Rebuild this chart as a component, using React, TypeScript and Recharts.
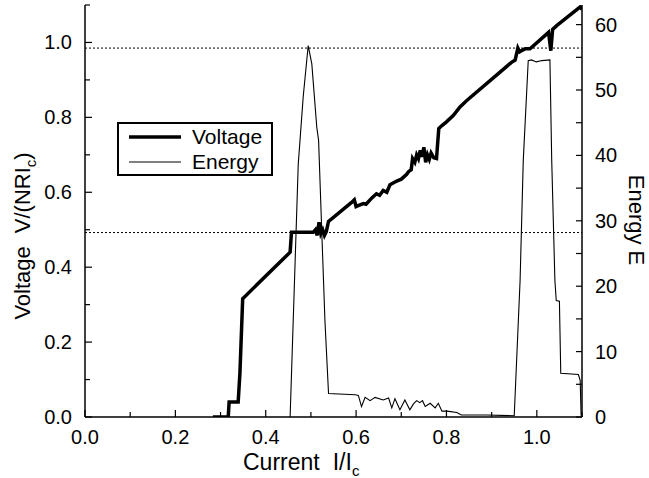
import { Label, Legend, Line, LineChart, ReferenceLine, XAxis, YAxis } from "recharts";

// Voltage V/(NRIc) vs current I/Ic
const voltageI = [
  0.283, 0.317, 0.319, 0.339, 0.343, 0.349, 0.454, 0.457, 0.505, 0.51, 0.514, 0.518, 0.522,
  0.526, 0.53, 0.534, 0.539, 0.59, 0.596, 0.6, 0.606, 0.616, 0.622, 0.635, 0.645, 0.652, 0.66,
  0.668, 0.675, 0.69, 0.7, 0.712, 0.716, 0.722, 0.725, 0.73, 0.734, 0.738, 0.742, 0.746, 0.75,
  0.754, 0.758, 0.762, 0.766, 0.772, 0.778, 0.783, 0.79, 0.8, 0.815, 0.83, 0.845, 0.944, 0.952,
  0.958, 0.962, 0.966, 0.974, 0.985, 1.026, 1.031, 1.035, 1.044, 1.096, 1.1,
];
const voltageV = [
  0, 0, 0.04, 0.04, 0.12, 0.316, 0.44, 0.493, 0.493, 0.5, 0.485, 0.52, 0.49,
  0.5, 0.485, 0.495, 0.522, 0.573, 0.58, 0.562, 0.565, 0.57, 0.568, 0.585, 0.596, 0.592, 0.605,
  0.6, 0.62, 0.63, 0.635, 0.648, 0.655, 0.66, 0.69, 0.68, 0.7, 0.69, 0.712, 0.695, 0.72,
  0.68, 0.7, 0.688, 0.705, 0.692, 0.69, 0.77, 0.778, 0.788, 0.805, 0.828, 0.845, 0.947, 0.953,
  0.985, 0.975, 0.978, 0.983, 0.983, 1.027, 0.978, 1.035, 1.045, 1.095, 1.088,
];

// Energy E vs current I/Ic
const energyI = [
  0.454, 0.472, 0.483, 0.494, 0.502, 0.513, 0.517, 0.525, 0.531, 0.539, 0.598, 0.605, 0.612,
  0.62, 0.631, 0.642, 0.66, 0.672, 0.679, 0.686, 0.697, 0.708, 0.719, 0.727, 0.734, 0.741,
  0.747, 0.753, 0.764, 0.775, 0.782, 0.79, 0.801, 0.823, 0.833, 0.889, 0.95, 0.963, 0.97,
  0.981, 0.988, 0.999, 1.011, 1.029, 1.033, 1.04, 1.043, 1.05, 1.053, 1.092, 1.096, 1.098,
];
const energyE = [
  0, 38.7, 49, 56.8, 54, 44.3, 42.3, 26.5, 14.8, 3.6, 3.4, 3.3, 1.6,
  3.0, 2.5, 3.0, 2.6, 2.9, 1.4, 2.8, 1.1, 2.6, 1.1, 2.0, 2.5, 2.2,
  2.5, 1.6, 2.1, 1.4, 2.1, 0.9, 0.9, 0.7, 0.3, 0.3, 0.2, 20.9, 39.2,
  54.5, 54.6, 54.3, 54.5, 54.6, 39.2, 20.9, 17.8, 17.7, 6.7, 6.5, 5.6, 0.2,
];

const xTicks = [0, 0.1, 0.2, 0.3, 0.4, 0.5, 0.6, 0.7, 0.8, 0.9, 1.0, 1.1];
const xLabels = [0, 0.2, 0.4, 0.6, 0.8, 1.0];
const vTicks = [0, 0.1, 0.2, 0.3, 0.4, 0.5, 0.6, 0.7, 0.8, 0.9, 1.0, 1.1];
const vLabels = [0, 0.2, 0.4, 0.6, 0.8, 1.0];
const eTicks = [0, 5, 10, 15, 20, 25, 30, 35, 40, 45, 50, 55, 60];
const eLabels = [0, 10, 20, 30, 40, 50, 60];
const guideLevels = [0.985, 0.4925];

const voltageData = voltageI.map((x, i) => ({ x, v: voltageV[i] }));
const energyData = energyI.map((x, i) => ({ x, e: energyE[i] }));

const FONT = "'Liberation Sans', Arial, Helvetica, sans-serif";
const has = (list: number[], v: number) => list.some((l) => Math.abs(l - v) < 1e-6);

const BottomTick = ({ x, y, payload }: any) => {
  const v = payload.value;
  const major = has(xLabels, v);
  return (
    <g>
      <line x1={x} x2={x} y1={y} y2={y - (major ? 7 : 5)} stroke="#000" strokeWidth={1.2} />
      {major && (
        <text x={x} y={y + 27} textAnchor="middle" fontSize={20} fontFamily={FONT} fill="#000">
          {v.toFixed(1)}
        </text>
      )}
    </g>
  );
};

const TopTick = ({ x, y, payload }: any) => {
  const major = has(xLabels, payload.value);
  return <line x1={x} x2={x} y1={y} y2={y + (major ? 7 : 5)} stroke="#000" strokeWidth={1.2} />;
};

const LeftTick = ({ x, y, payload }: any) => {
  const v = payload.value;
  const major = has(vLabels, v);
  return (
    <g>
      <line x1={x} x2={x + (major ? 7 : 5)} y1={y} y2={y} stroke="#000" strokeWidth={1.2} />
      {major && (
        <text x={x - 13} y={y + 7} textAnchor="end" fontSize={20} fontFamily={FONT} fill="#000">
          {v.toFixed(1)}
        </text>
      )}
    </g>
  );
};

const RightTick = ({ x, y, payload }: any) => {
  const v = payload.value;
  const major = has(eLabels, v);
  return (
    <g>
      <line x1={x} x2={x - 6} y1={y} y2={y} stroke="#000" strokeWidth={1.2} />
      {major && (
        <text x={x + 13} y={y + 7} textAnchor="start" fontSize={20} fontFamily={FONT} fill="#000">
          {v}
        </text>
      )}
    </g>
  );
};

const LegendBox = () => (
  <svg width={156} height={54} style={{ display: "block" }}>
    <rect x={1} y={1} width={154} height={52} fill="#fff" stroke="#000" strokeWidth={2} />
    <line x1={12} x2={64} y1={15} y2={15} stroke="#000" strokeWidth={3.5} />
    <line x1={12} x2={64} y1={40} y2={40} stroke="#000" strokeWidth={1} />
    <text x={75} y={22} fontSize={21} fontFamily={FONT} fill="#000">Voltage</text>
    <text x={75} y={47} fontSize={21} fontFamily={FONT} fill="#000">Energy</text>
  </svg>
);

const App = () => {
  return (
    <div style={{ position: "absolute", left: 0, top: 0, background: "#fff" }}>
      <LineChart width={649} height={478} margin={{ top: 5, right: 0, bottom: 0, left: 0 }}>
        <XAxis
          xAxisId="b"
          type="number"
          dataKey="x"
          domain={[0, 1.1]}
          ticks={xTicks}
          interval={0}
          allowDataOverflow
          height={61}
          tickSize={0}
          tickMargin={0}
          tick={<BottomTick />}
          axisLine={{ stroke: "#000", strokeWidth: 1.5 }}
        >
          <Label
            content={() => (
              <text x={243} y={470} textAnchor="start" fontSize={23} fontFamily={FONT} fill="#000">
                Current<tspan dx={13}>I/I</tspan>
                <tspan dy={6} fontSize={15}>c</tspan>
              </text>
            )}
          />
        </XAxis>
        <XAxis
          xAxisId="t"
          orientation="top"
          type="number"
          dataKey="x"
          domain={[0, 1.1]}
          ticks={xTicks}
          interval={0}
          allowDataOverflow
          height={0}
          tickSize={0}
          tickMargin={0}
          tick={<TopTick />}
          axisLine={{ stroke: "#000", strokeWidth: 1.5 }}
        />
        <YAxis
          yAxisId="v"
          type="number"
          domain={[0, 1.1]}
          ticks={vTicks}
          interval={0}
          allowDataOverflow
          width={85}
          tickSize={0}
          tickMargin={0}
          tick={<LeftTick />}
          axisLine={{ stroke: "#000", strokeWidth: 1.5 }}
        >
          <Label
            content={() => (
              <text
                transform="translate(30, 236) rotate(-90)"
                textAnchor="middle"
                fontSize={22}
                fontFamily={FONT}
                fill="#000"
              >
                Voltage<tspan dx={13}>V/(NRI</tspan>
                <tspan dy={6} fontSize={15}>c</tspan>
                <tspan dy={-6}>)</tspan>
              </text>
            )}
          />
        </YAxis>
        <YAxis
          yAxisId="e"
          orientation="right"
          type="number"
          domain={[0, 63]}
          ticks={eTicks}
          interval={0}
          allowDataOverflow
          width={67}
          tickSize={0}
          tickMargin={0}
          tick={<RightTick />}
          axisLine={{ stroke: "#000", strokeWidth: 1.5 }}
        >
          <Label
            content={() => (
              <text
                transform="translate(629, 220) rotate(90)"
                textAnchor="middle"
                fontSize={22}
                fontFamily={FONT}
                fill="#000"
              >
                Energy E
              </text>
            )}
          />
        </YAxis>
        {guideLevels.map((g) => (
          <ReferenceLine
            key={g}
            xAxisId="b"
            yAxisId="v"
            y={g}
            stroke="#000"
            strokeWidth={1}
            strokeDasharray="2 2"
          />
        ))}
        <Line
          data={energyData}
          xAxisId="b"
          yAxisId="e"
          dataKey="e"
          type="linear"
          stroke="#000"
          strokeWidth={1.1}
          dot={false}
          isAnimationActive={false}
          name="Energy"
        />
        <Line
          data={voltageData}
          xAxisId="b"
          yAxisId="v"
          dataKey="v"
          type="linear"
          stroke="#000"
          strokeWidth={3.5}
          dot={false}
          isAnimationActive={false}
          name="Voltage"
        />
        <Legend
          layout="vertical"
          align="center"
          verticalAlign="middle"
          content={() => <LegendBox />}
          wrapperStyle={{ left: 117, top: 122, width: 156, height: 54 }}
        />
      </LineChart>
    </div>
  );
};

export default App;
